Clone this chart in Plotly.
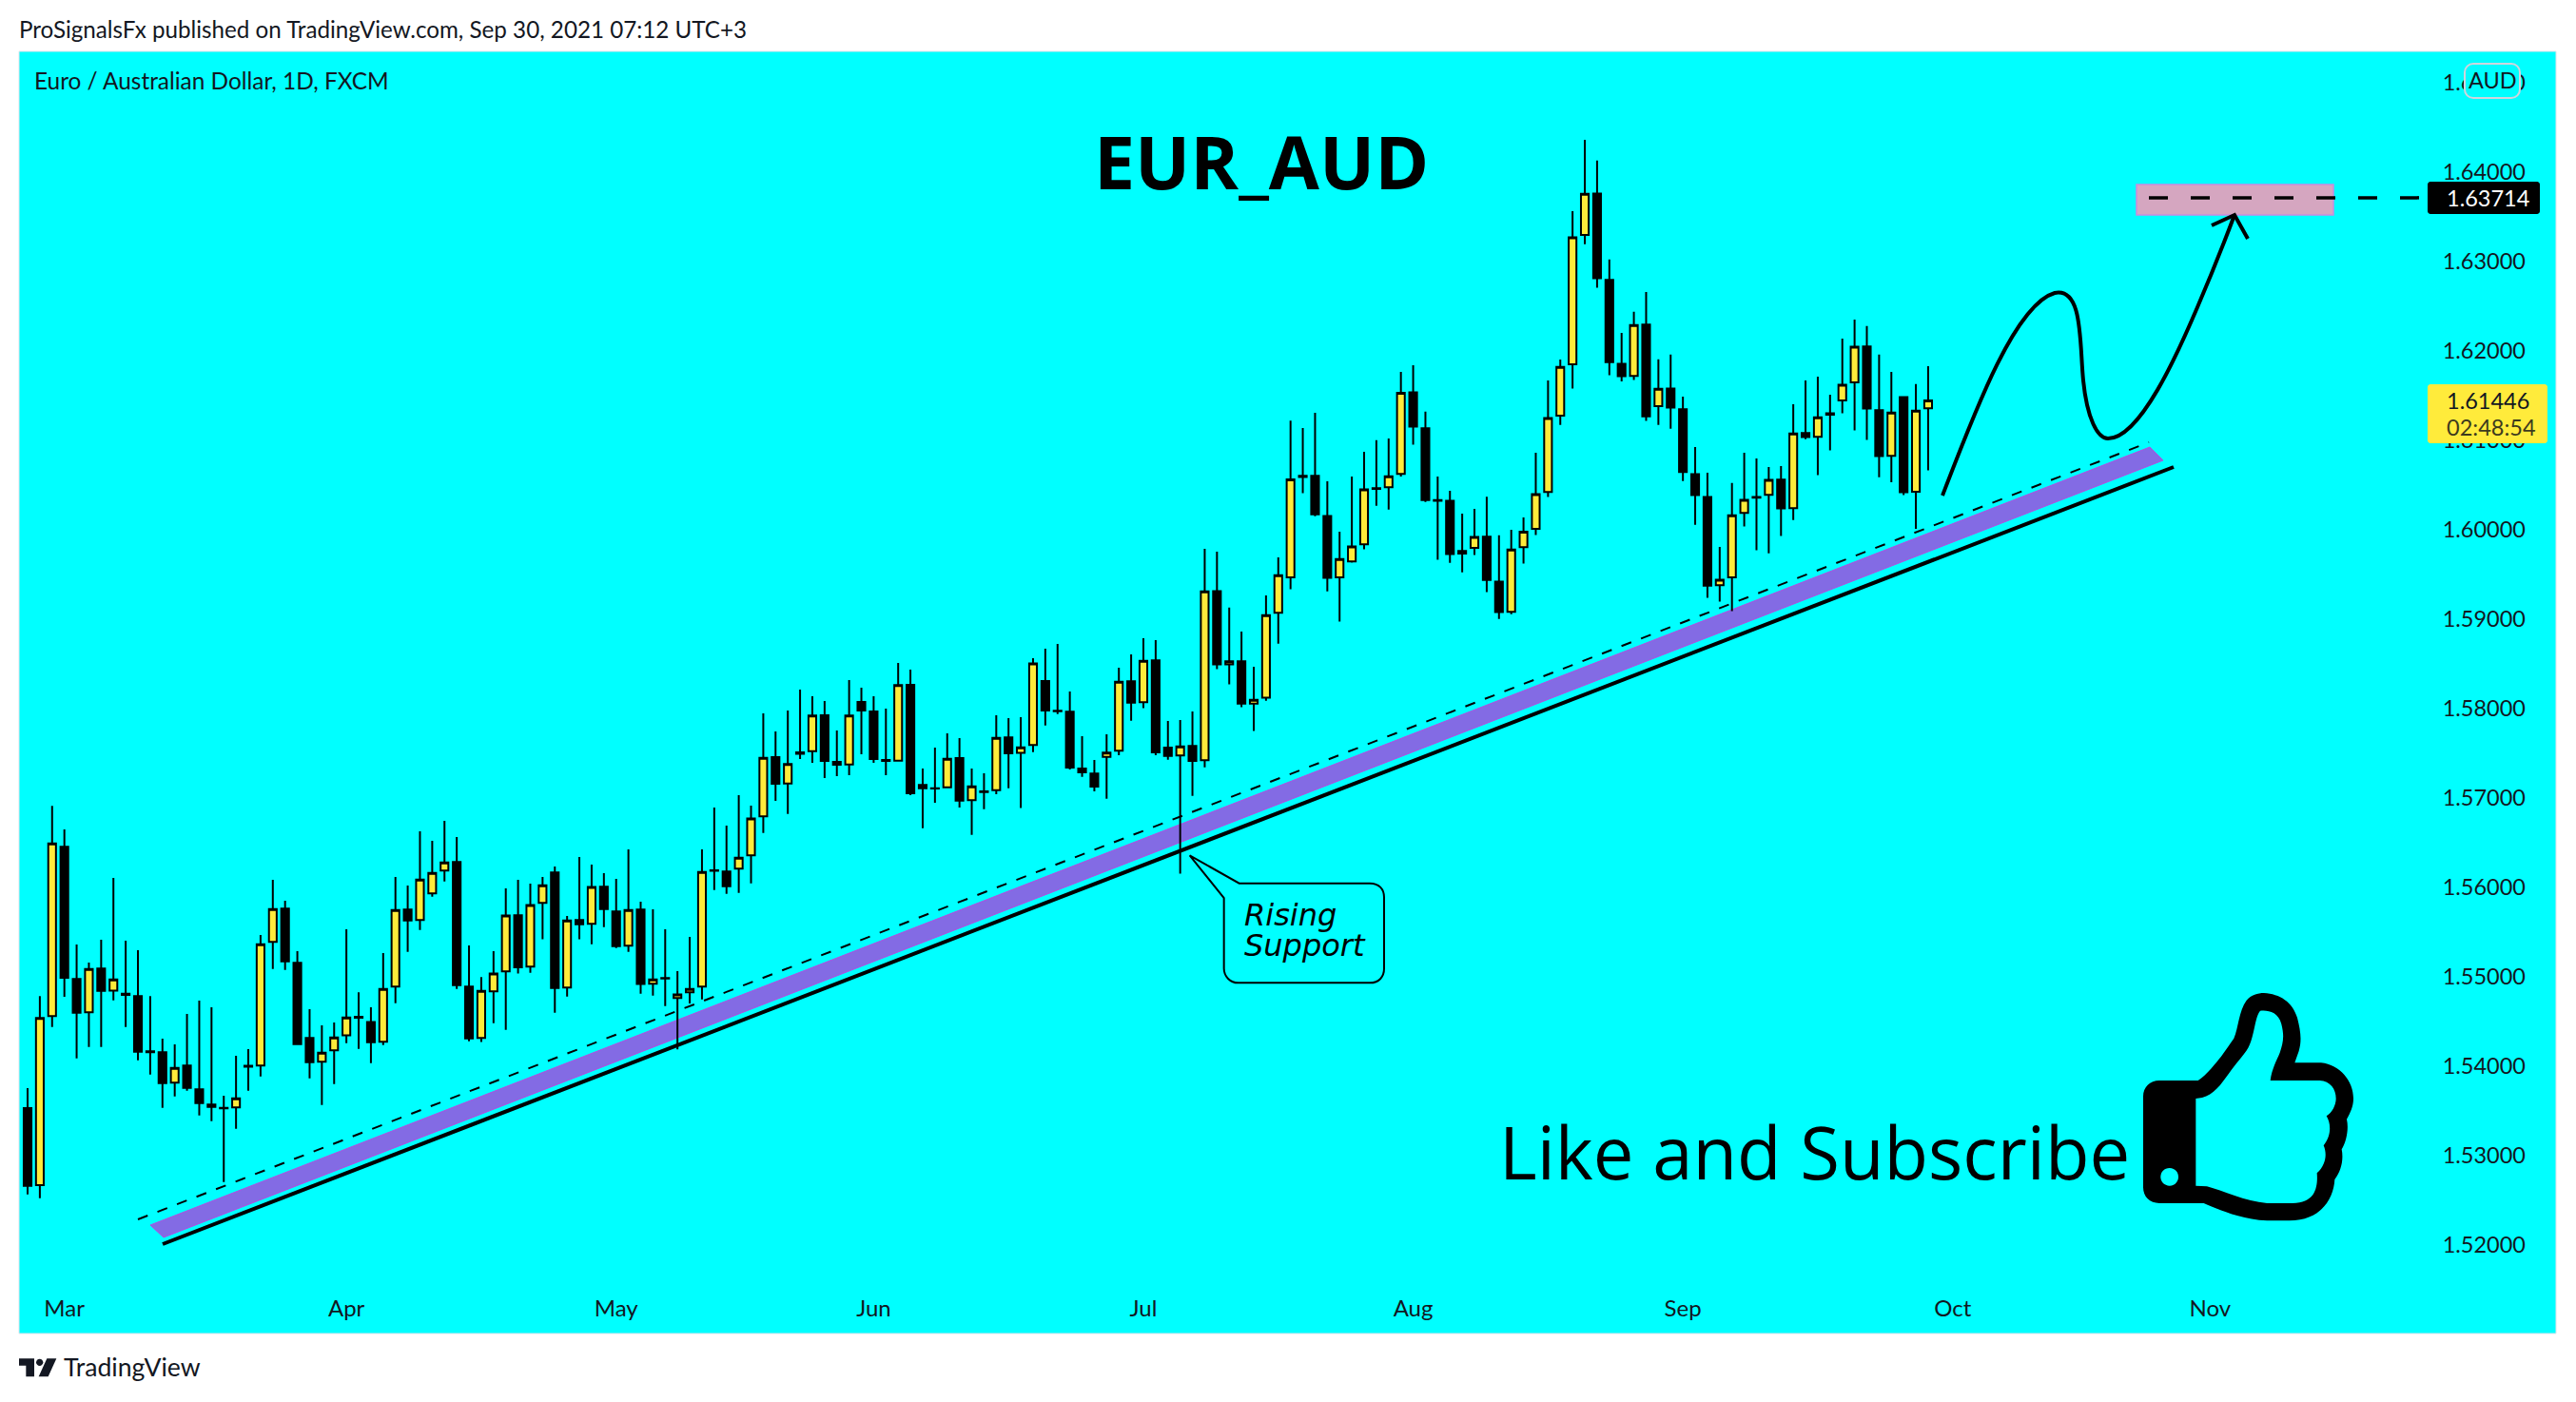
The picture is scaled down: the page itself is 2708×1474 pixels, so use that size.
import re
import plotly.graph_objects as go

opens = [1.53532,1.52670,1.54560,1.56454,1.54975,1.54603,1.55092,1.54847,1.54812,1.54784,
1.54167,1.54156,1.53816,1.54007,1.53741,1.53571,1.53535,1.53539,1.54004,1.54007,
1.55390,1.55762,1.55156,1.54316,1.54050,1.54177,1.54347,1.54553,1.54496,1.54273,
1.54890,1.55752,1.55635,1.55933,1.56188,1.56284,1.54890,1.54316,1.54837,1.55060,
1.55688,1.55114,1.55826,1.56167,1.54880,1.55635,1.55592,1.56007,1.55731,1.55348,
1.55752,1.54922,1.54986,1.54763,1.54826,1.54890,1.56192,1.56177,1.56209,1.56358,
1.56794,1.57457,1.57163,1.57510,1.57524,1.57925,1.57404,1.57375,1.58074,1.57968,
1.57425,1.57418,1.58265,1.57145,1.57110,1.57121,1.57447,1.56975,1.57074,1.57089,
1.57677,1.57504,1.57592,1.58309,1.57975,1.57965,1.57330,1.57273,1.57461,1.57528,
1.58305,1.58071,1.58539,1.57564,1.57475,1.57582,1.57423,1.59315,1.58494,1.58528,
1.58057,1.58122,1.59072,1.59467,1.60603,1.60603,1.60154,1.59467,1.59645,1.59839,
1.60466,1.60477,1.60626,1.61537,1.61135,1.60333,1.60325,1.59733,1.59797,1.59923,
1.59421,1.59083,1.59805,1.60010,1.60424,1.61276,1.61850,1.63297,1.63760,1.62795,
1.61857,1.61720,1.62294,1.61382,1.61580,1.61348,1.60623,1.60368,1.59380,1.59468,
1.60189,1.60368,1.60391,1.60562,1.60243,1.61082,1.61040,1.61287,1.61447,1.61648,
1.62051,1.61337,1.60828,1.61485,1.60425,1.61359]

highs = [1.53755,1.54784,1.56911,1.56649,1.55362,1.55159,1.55415,1.56106,1.55404,1.55298,
1.54784,1.54308,1.54245,1.54585,1.54734,1.54659,1.53670,1.54117,1.54191,1.55468,
1.56085,1.55851,1.55287,1.54638,1.54457,1.54489,1.55532,1.54826,1.54659,1.55266,
1.56117,1.56021,1.56628,1.56521,1.56745,1.56564,1.55351,1.54997,1.55287,1.55990,
1.56085,1.56043,1.56117,1.56234,1.55681,1.56341,1.56255,1.56160,1.56096,1.56426,
1.55841,1.55755,1.55532,1.55064,1.55447,1.56426,1.56894,1.56692,1.57032,1.56915,
1.57946,1.57744,1.57978,1.58212,1.58138,1.58085,1.57755,1.58319,1.58234,1.58138,
1.58000,1.58510,1.58436,1.57330,1.57564,1.57723,1.57670,1.57330,1.57277,1.57926,
1.57894,1.57904,1.58564,1.58670,1.58723,1.58192,1.57692,1.57426,1.57713,1.58457,
1.58606,1.58787,1.58766,1.57862,1.57872,1.57968,1.59786,1.59756,1.59129,1.58863,
1.58468,1.59265,1.59691,1.61222,1.61138,1.61309,1.60542,1.59980,1.60595,1.60872,
1.61002,1.61021,1.61765,1.61841,1.61321,1.60595,1.60436,1.60181,1.60234,1.60371,
1.59938,1.59999,1.60139,1.60861,1.61670,1.61903,1.63563,1.64361,1.64129,1.63023,
1.62203,1.62438,1.62659,1.61907,1.61960,1.61489,1.60926,1.60638,1.59809,1.60524,
1.60862,1.60797,1.60702,1.60714,1.61405,1.61671,1.61713,1.61511,1.62138,1.62351,
1.62279,1.61960,1.61766,1.61485,1.61629,1.61831]

lows = [1.52567,1.52525,1.54440,1.54777,1.54089,1.54216,1.54216,1.54738,1.54440,1.54067,
1.53908,1.53535,1.53663,1.53727,1.53450,1.53386,1.52706,1.53301,1.53727,1.53886,
1.55089,1.55078,1.54237,1.53865,1.53567,1.53801,1.54259,1.54195,1.54035,1.54237,
1.54706,1.55280,1.55525,1.55897,1.56067,1.54865,1.54280,1.54270,1.54482,1.54408,
1.55036,1.55046,1.55419,1.54599,1.54780,1.55419,1.55365,1.55557,1.55323,1.55280,
1.54812,1.54791,1.54674,1.54188,1.54702,1.54748,1.55972,1.55929,1.55940,1.56046,
1.56609,1.56968,1.56822,1.57436,1.57393,1.57223,1.57244,1.57255,1.57489,1.57393,
1.57255,1.57407,1.57031,1.56663,1.56947,1.57110,1.56894,1.56589,1.56876,1.57043,
1.57110,1.56887,1.57514,1.57812,1.57940,1.57319,1.57238,1.57074,1.56993,1.57479,
1.57865,1.58004,1.57479,1.57429,1.56153,1.57025,1.57343,1.58441,1.58270,1.58016,
1.57750,1.58088,1.58726,1.59334,1.60409,1.60151,1.59311,1.58973,1.59634,1.59782,
1.60268,1.60227,1.60595,1.60952,1.60310,1.59664,1.59630,1.59524,1.59718,1.59303,
1.59003,1.59057,1.59623,1.59942,1.60367,1.61173,1.61580,1.63194,1.62708,1.61728,
1.61660,1.61675,1.61219,1.61173,1.61131,1.60546,1.60056,1.59240,1.59198,1.59091,
1.60037,1.59771,1.59737,1.59931,1.60110,1.61014,1.60611,1.60888,1.61302,1.61112,
1.61006,1.60588,1.60531,1.60387,1.60011,1.60664]

closes = [1.52663,1.54539,1.56493,1.54989,1.54599,1.55089,1.54844,1.54972,1.54798,1.54163,
1.54156,1.53812,1.53982,1.53759,1.53589,1.53546,1.53528,1.53642,1.53996,1.55365,
1.55759,1.55174,1.54248,1.54046,1.54152,1.54323,1.54546,1.54542,1.54269,1.54865,
1.55748,1.55631,1.56089,1.56163,1.56280,1.54908,1.54312,1.54844,1.55036,1.55685,
1.55107,1.55802,1.56025,1.54876,1.55631,1.55589,1.56004,1.55759,1.55344,1.55748,
1.54919,1.54972,1.54982,1.54802,1.54865,1.56174,1.56185,1.56014,1.56333,1.56770,
1.57450,1.57159,1.57379,1.57496,1.57922,1.57414,1.57372,1.57922,1.57978,1.57436,
1.57414,1.58262,1.57053,1.57110,1.57106,1.57440,1.56972,1.57131,1.57067,1.57674,
1.57500,1.57567,1.58504,1.57979,1.57972,1.57340,1.57287,1.57128,1.57507,1.58301,
1.58067,1.58535,1.57511,1.57472,1.57578,1.57415,1.59311,1.58494,1.58528,1.58057,
1.58099,1.59045,1.59493,1.60565,1.60591,1.60173,1.59463,1.59672,1.59813,1.60451,
1.60458,1.60599,1.61533,1.61154,1.60333,1.60325,1.59729,1.59763,1.59919,1.59440,
1.59079,1.59778,1.59980,1.60398,1.61249,1.61823,1.63270,1.63757,1.62814,1.61876,
1.61717,1.62290,1.61268,1.61576,1.61367,1.60645,1.60387,1.59376,1.59441,1.60163,
1.60334,1.60360,1.60558,1.60239,1.61078,1.61037,1.61257,1.61302,1.61622,1.62047,
1.61356,1.60824,1.61310,1.60421,1.61333,1.61446]

month_bars = [3, 26, 48, 69, 91, 113, 135, 157, 178]
month_labels = ["Mar", "Apr", "May", "Jun", "Jul", "Aug", "Sep", "Oct", "Nov"]
price_ticks = [1.52, 1.53, 1.54, 1.55, 1.56, 1.57, 1.58, 1.59, 1.60, 1.61, 1.62, 1.63, 1.64, 1.65]
target_price = 1.63714
last_price = "1.61446"
countdown = "02:48:54"

bars = list(range(len(opens)))

W, H = 2708, 1474
L, R, T, B = 20, 2687, 54, 1402
BAR = 12.89
UI = "Lato, sans-serif"
DJ = "DejaVu Sans, sans-serif"
OS = "Open Sans, sans-serif"
INK = "#131722"


def xp(X):
    return (X - L) / (R - L)


def yp(Y):
    return (B - Y) / (B - T)


def path(d, ox=0, oy=0, s=1.0):
    toks = re.findall(r"[A-Za-z]|-?\d+\.?\d*", d)
    out, nums = [], []
    for t in toks:
        if t.isalpha():
            out.append(t)
        else:
            nums.append(float(t))
            if len(nums) == 2:
                out.append(f"{xp(ox + nums[0] / s):.6f},{yp(oy + nums[1] / s):.6f}")
                nums = []
    return " ".join(out)


def rrect(x0, y0, x1, y1, r):
    k = r * 0.45
    return (f"M {x0+r} {y0} L {x1-r} {y0} C {x1-k} {y0} {x1} {y0+k} {x1} {y0+r} "
            f"L {x1} {y1-r} C {x1} {y1-k} {x1-k} {y1} {x1-r} {y1} "
            f"L {x0+r} {y1} C {x0+k} {y1} {x0} {y1-k} {x0} {y1-r} "
            f"L {x0} {y0+r} C {x0} {y0+k} {x0+k} {y0} {x0+r} {y0} Z")


def pshape(d, fill="rgba(0,0,0,0)", color="rgba(0,0,0,0)", width=0, layer="above", **kw):
    return dict(type="path", xref="paper", yref="paper", path=path(d, **kw), fillcolor=fill,
                line=dict(color=color, width=width), layer=layer)


def seg(x0, y0, x1, y1, color, width, dash="solid", layer="above"):
    return dict(type="line", xref="paper", yref="paper", x0=xp(x0), y0=yp(y0), x1=xp(x1), y1=yp(y1),
                line=dict(color=color, width=width, dash=dash), layer=layer)


def label(text, X, Y, size, color=INK, anchor="left", family=UI, **font_kw):
    return dict(text=text, x=xp(X), y=yp(Y), xref="paper", yref="paper", showarrow=False,
                xanchor=anchor, yanchor="middle", borderpad=0, borderwidth=0,
                font=dict(family=family, size=size, color=color, **font_kw))


thumb_outer = ("M 150 348 L 272 348 C 300 330 330 290 345 272 C 360 250 375 230 385 215 "
               "C 400 180 400 130 425 95 C 440 78 460 72 480 72 C 530 75 570 100 585 150 "
               "C 595 190 600 220 590 255 L 577 292 L 660 292 C 720 298 762 350 762 405 "
               "C 762 430 752 450 741 470 C 748 500 740 540 725 565 C 732 600 722 635 703 660 "
               "C 700 720 660 790 560 790 L 490 790 C 400 785 340 755 290 735 L 150 735 "
               "C 120 735 99 715 99 685 L 99 398 C 99 370 120 348 150 348 Z ")
thumb_inner = ("M 265 405 L 285 402 C 320 395 345 360 370 325 C 390 295 415 270 430 245 "
               "C 450 210 450 150 468 128 C 490 125 525 130 535 170 C 545 210 540 230 530 260 "
               "C 520 285 505 310 500 348 L 655 348 C 690 350 707 375 707 405 "
               "C 707 425 695 450 677 460 C 690 480 695 520 668 553 C 680 580 675 615 647 640 "
               "C 650 680 645 735 570 735 L 490 735 C 420 730 350 695 300 682 L 265 680 Z ")
thumb_dot = ("M 154 652 C 154 636 166 624 182 624 C 198 624 210 636 210 652 "
             "C 210 668 198 680 182 680 C 166 680 154 668 154 652 Z")

shapes = [
    # trend channel
    pshape("M 158 1288 L 2260 470 L 2274 484 L 172 1301 Z", fill="#836BE4", color="#B04FE0", width=1, layer="below"),
    seg(145, 1282, 2259, 465, "black", 2, "11px,11px", "below"),
    seg(171, 1308, 2285, 491, "black", 4, "solid", "below"),
    # target zone
    pshape("M 2246 194 L 2453 194 L 2453 226 L 2246 226 Z", fill="#D5A6C0", color="#C98CE0", width=1.5),
    dict(type="line", xref="paper", yref="y", x0=xp(2259), x1=xp(2543), y0=target_price, y1=target_price,
         line=dict(color="black", width=3.5, dash="20px,24px"), layer="above"),
    # projected path
    pshape("M 2042 521 C 2075 435 2118 320 2160 308 C 2190 302 2186 360 2190 400 "
           "C 2194 440 2205 461 2216 461 C 2250 461 2290 370 2310 323 C 2325 288 2340 250 2349 226",
           color="black", width=4),
    pshape("M 2325 237 L 2349 226 L 2363 251", color="black", width=4),
    # callout
    pshape("M 152 58 L 308 146 L 720 146 C 750 146 765 165 765 190 L 765 415 C 765 440 750 460 720 460 "
           "L 305 460 C 280 460 260 440 260 415 L 260 192 Z", color="black", width=2, ox=1200, oy=880, s=3),
    # thumb
    pshape(thumb_outer + thumb_inner, fill="black", ox=2220, oy=1020, s=3),
    pshape(thumb_dot, fill="#00FFFF", ox=2220, oy=1020, s=3),
    # price labels
    pshape(rrect(2552, 191, 2670, 225, 3), fill="black"),
    pshape(rrect(2552, 404, 2678, 466, 3), fill="#FFEB3B"),
    pshape(rrect(2591, 67, 2649, 103, 9), fill="#00FFFF", color="#D1D4DC", width=2),
    # TradingView logo
    pshape("M 60 265 L 108 265 L 108 322 L 82 322 L 82 287 L 60 287 Z", fill=INK, oy=1340, s=3),
    pshape("M 114 277 C 114 271 119 266 125 266 C 131 266 136 271 136 277 C 136 283 131 288 125 288 C 119 288 114 283 114 277 Z",
           fill=INK, oy=1340, s=3),
    pshape("M 148 265 L 178 265 L 152 322 L 122 322 Z", fill=INK, oy=1340, s=3),
    # chart frame
    dict(type="rect", xref="paper", yref="paper", x0=0, y0=0, x1=1, y1=1,
         line=dict(color="#E0E3EB", width=1), layer="below"),
]

annotations = [
    label("ProSignalsFx published on TradingView.com, Sep 30, 2021 07:12 UTC+3", 20, 30, 24.2),
    label("Euro / Australian Dollar, 1D, FXCM", 36, 85, 24.4),
    label("EUR_AUD", 1326, 170, 77, "black", "center", OS, weight="bold"),
    label("Like and Subscribe", 1576, 1210, 76, "black", "left", OS),
    label("Rising", 1308, 962, 32, "black", "left", DJ, style="italic"),
    label("Support", 1308, 994, 32, "black", "left", DJ, style="italic"),
    label("1.63714", 2615, 208, 23.5, "white", "center"),
    label(last_price, 2615, 421, 23.5, INK, "center"),
    label(countdown, 2619, 449, 23.5, "#3D3A1E", "center"),
    label("AUD", 2620, 84, 23.5, INK, "center"),
    label("TradingView", 67, 1437, 26.6, INK),
]

fig = go.Figure(go.Candlestick(
    x=bars, open=opens, high=highs, low=lows, close=closes,
    increasing=dict(fillcolor="#FFEB3B", line=dict(color="black", width=2)),
    decreasing=dict(fillcolor="black", line=dict(color="black", width=2)),
    whiskerwidth=0, hoverinfo="skip", showlegend=False,
))

fig.update_layout(
    width=W, height=H, autosize=False,
    margin=dict(l=L, r=W - R, t=T, b=H - B, pad=0, autoexpand=False),
    paper_bgcolor="white", plot_bgcolor="#00FFFF",
    showlegend=False, boxgap=0.1, shapes=shapes, annotations=annotations,
    xaxis=dict(
        range=[(L - 29) / BAR, (R - 29) / BAR], rangeslider=dict(visible=False),
        tickmode="array", tickvals=month_bars, ticktext=month_labels,
        ticklabelposition="inside", ticks="", showgrid=False, zeroline=False, showline=False,
        tickfont=dict(family=UI, size=24, color=INK), ticklabelstandoff=10,
    ),
    yaxis=dict(
        side="right", range=[1.64 - (B - 181) / 9400, 1.64 + (181 - T) / 9400],
        tickmode="array", tickvals=price_ticks, ticktext=[f"{v:.5f}" for v in price_ticks],
        ticklabelposition="inside", ticks="", showgrid=False, zeroline=False, showline=False,
        tickfont=dict(family=UI, size=23.5, color=INK), ticklabelstandoff=29,
    ),
)

fig.write_html("out.html", config=dict(displayModeBar=False),
               post_script="document.body.style.margin='0';document.body.style.overflow='hidden';")
